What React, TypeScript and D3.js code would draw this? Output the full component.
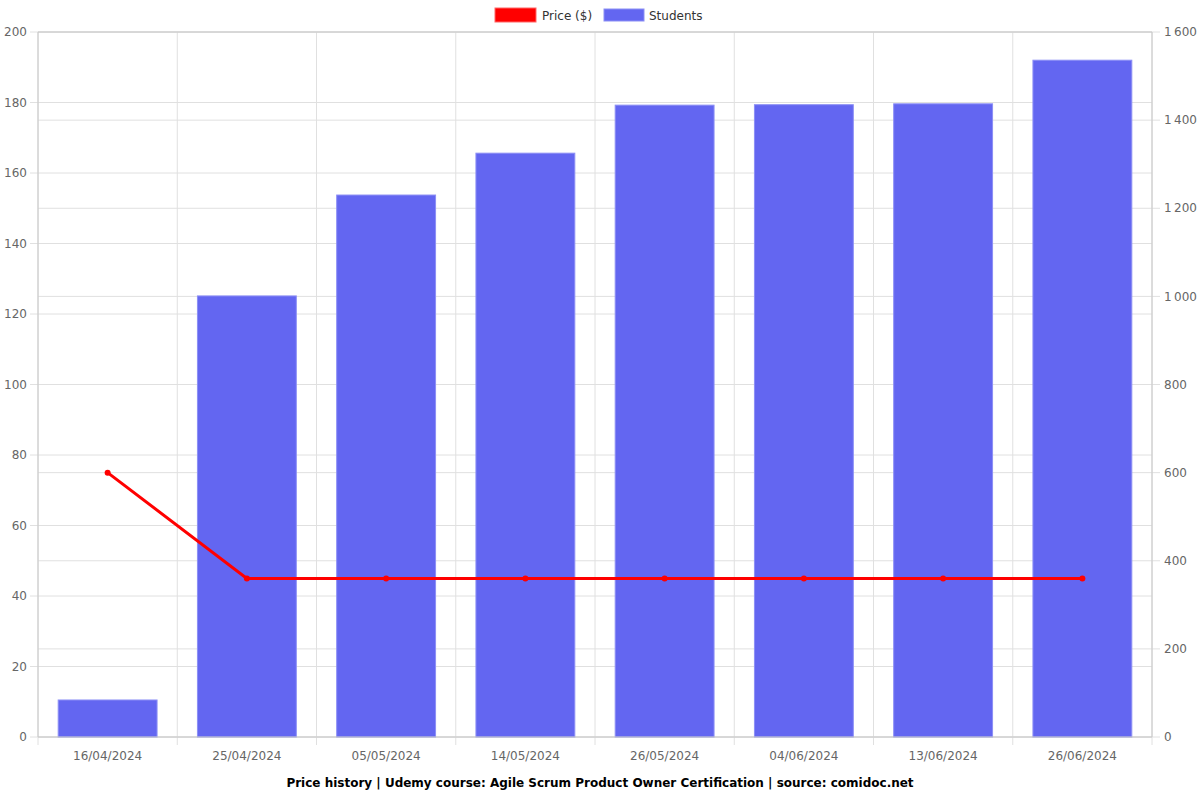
import React from "react";
import * as d3 from "d3";

// Chart data
const dates = [
  "16/04/2024", "25/04/2024", "05/05/2024", "14/05/2024",
  "26/05/2024", "04/06/2024", "13/06/2024", "26/06/2024",
];
const prices = [75, 45, 45, 45, 45, 45, 45, 45];
const students = [84, 1001, 1230, 1325, 1434, 1435, 1437, 1536];
const priceTicks = [0, 20, 40, 60, 80, 100, 120, 140, 160, 180, 200];
const studentTicks = [0, 200, 400, 600, 800, 1000, 1200, 1400, 1600];

const title = "Price history | Udemy course: Agile Scrum Product Owner Certification | source: comidoc.net";

const W = 1200;
const H = 800;
const margin = { top: 32, right: 48, bottom: 63, left: 38 };
const font = "'DejaVu Sans', sans-serif";
const gridColor = "#e0e0e0";
const axisColor = "#c8c8c8";
const labelColor = "#666";
const barColor = "#6366f1";

function fmtThousands(v: number) {
  return v >= 1000 ? `${Math.floor(v / 1000)}\u202f${String(v % 1000).padStart(3, "0")}` : String(v);
}

export default function App() {
  const x0 = margin.left;
  const x1 = W - margin.right;
  const y0 = H - margin.bottom;
  const y1 = margin.top;

  const x = d3.scaleBand<string>().domain(dates).range([x0, x1]).paddingInner(0).paddingOuter(0);
  const yPrice = d3.scaleLinear().domain([0, 200]).range([y0, y1]);
  const yStud = d3.scaleLinear().domain([0, 1600]).range([y0, y1]);

  const barW = x.bandwidth() * 0.71;
  const line = d3
    .line<number>()
    .x((_, i) => x(dates[i])! + x.bandwidth() / 2)
    .y((d) => yPrice(d));

  const boundaries = d3.range(dates.length + 1).map((i) => x0 + i * x.step());

  return (
    <svg width={W} height={H} style={{ position: "absolute", left: 0, top: 0 }} fontFamily={font}>
      <rect width={W} height={H} fill="#fff" />

      {/* grid: left axis */}
      {priceTicks.map((t) => (
        <line key={"gp" + t} x1={x0 - 8} x2={x1} y1={yPrice(t)} y2={yPrice(t)} stroke={gridColor} />
      ))}
      {/* grid: right axis */}
      {studentTicks.map((t) => (
        <line key={"gs" + t} x1={x0} x2={x1 + 8} y1={yStud(t)} y2={yStud(t)} stroke={gridColor} />
      ))}
      {/* vertical grid */}
      {boundaries.map((b, i) => (
        <line key={"gv" + i} x1={b} x2={b} y1={y1} y2={y0 + 8} stroke={gridColor} />
      ))}

      {/* bars */}
      {students.map((s, i) => (
        <rect
          key={"b" + i}
          x={x(dates[i])! + (x.bandwidth() - barW) / 2}
          y={yStud(s)}
          width={barW}
          height={y0 - yStud(s)}
          fill={barColor}
          stroke="#8c8ff5"
          strokeWidth={1}
        />
      ))}

      {/* axis lines */}
      <line x1={x0} x2={x0} y1={y1} y2={y0} stroke={axisColor} />
      <line x1={x1} x2={x1} y1={y1} y2={y0} stroke={axisColor} />
      <line x1={x0} x2={x1} y1={y0} y2={y0} stroke={axisColor} />
      <line x1={x0} x2={x1} y1={y1} y2={y1} stroke={axisColor} />

      {/* price line */}
      <path d={line(prices) ?? ""} fill="none" stroke="#ff0000" strokeWidth={3} />
      {prices.map((p, i) => (
        <circle key={"p" + i} cx={x(dates[i])! + x.bandwidth() / 2} cy={yPrice(p)} r={3} fill="#ff0000" />
      ))}

      {/* left tick labels */}
      {priceTicks.map((t) => (
        <text key={"lp" + t} x={x0 - 11} y={yPrice(t)} dy="0.35em" textAnchor="end" fontSize={12} fill={labelColor}>
          {t}
        </text>
      ))}
      {/* right tick labels */}
      {studentTicks.map((t) => (
        <text key={"ls" + t} x={x1 + 12} y={yStud(t)} dy="0.35em" textAnchor="start" fontSize={12} fill={labelColor}>
          {fmtThousands(t)}
        </text>
      ))}
      {/* x labels */}
      {dates.map((d) => (
        <text key={"lx" + d} x={x(d)! + x.bandwidth() / 2} y={y0 + 23} textAnchor="middle" fontSize={12} fill={labelColor}>
          {d}
        </text>
      ))}

      {/* legend */}
      <rect x={495} y={8} width={41} height={14} fill="#ff0000" stroke="#ff6666" />
      <text x={542} y={16} dy="0.35em" fontSize={12} fill="#333">Price ($)</text>
      <rect x={604} y={9} width={40} height={12} fill={barColor} stroke="#8c8ff5" />
      <text x={649} y={16} dy="0.35em" fontSize={12} fill="#333">Students</text>

      {/* title */}
      <text x={(x0 + x1) / 2 + 5} y={783} dy="0.35em" textAnchor="middle" fontSize={12} fontWeight="bold" fill="#000">
        {title}
      </text>
    </svg>
  );
}
